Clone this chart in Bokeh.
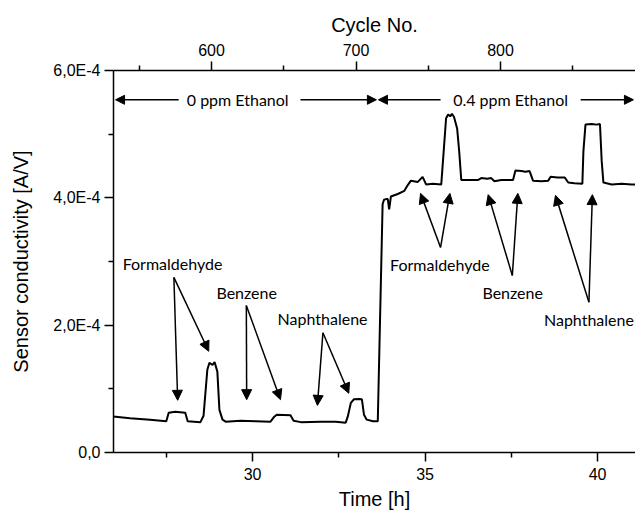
from bokeh.plotting import figure
from bokeh.models import (Range1d, LinearAxis, FixedTicker, Arrow, NormalHead,
                          Label, ColumnDataSource, CustomJSTickFormatter)
from bokeh.embed import file_html
from bokeh.resources import INLINE

# Sensor response over time (hours) in A/V
time_h = [25.96, 26.45, 27.03, 27.50, 27.57, 27.76, 28.05, 28.12, 28.49, 28.58,
          28.69, 28.75, 28.84, 28.90, 28.98, 29.04, 29.13, 29.22, 29.65, 30.09,
          30.52, 30.63, 30.70, 31.10, 31.19, 31.40, 31.98, 32.41, 32.70, 32.76,
          32.85, 32.94, 33.08, 33.17, 33.23, 33.31, 33.49, 33.63, 33.77, 33.81,
          33.87, 33.92, 33.96, 34.01, 34.21, 34.40, 34.50, 34.59, 34.79, 34.93,
          35.03, 35.23, 35.47, 35.52, 35.61, 35.67, 35.73, 35.78, 35.84, 35.93,
          35.99, 36.05, 36.34, 36.53, 36.63, 36.80, 36.92, 37.01, 37.21, 37.55,
          37.62, 37.79, 37.91, 38.03, 38.13, 38.37, 38.57, 38.64, 38.84, 39.05,
          39.15, 39.33, 39.56, 39.59, 39.65, 39.83, 39.97, 40.07, 40.12, 40.17,
          40.41, 40.70, 40.99, 41.13]
conductivity = [0.567e-4, 0.539e-4, 0.516e-4, 0.492e-4, 0.625e-4, 0.640e-4, 0.625e-4, 0.492e-4, 0.477e-4, 0.578e-4,
                1.30e-4, 1.41e-4, 1.375e-4, 1.42e-4, 1.27e-4, 0.67e-4, 0.516e-4, 0.484e-4, 0.500e-4, 0.492e-4,
                0.484e-4, 0.5625e-4, 0.594e-4, 0.586e-4, 0.500e-4, 0.477e-4, 0.484e-4, 0.484e-4, 0.469e-4, 0.5625e-4,
                0.78e-4, 0.836e-4, 0.84e-4, 0.836e-4, 0.594e-4, 0.516e-4, 0.492e-4, 0.489e-4, 3.90e-4, 3.97e-4,
                3.98e-4, 3.98e-4, 3.82e-4, 4.02e-4, 4.06e-4, 4.11e-4, 4.20e-4, 4.27e-4, 4.25e-4, 4.33e-4,
                4.21e-4, 4.22e-4, 4.21e-4, 4.58e-4, 5.25e-4, 5.31e-4, 5.28e-4, 5.32e-4, 5.27e-4, 5.09e-4,
                4.73e-4, 4.28e-4, 4.28e-4, 4.28e-4, 4.31e-4, 4.30e-4, 4.31e-4, 4.26e-4, 4.28e-4, 4.28e-4,
                4.43e-4, 4.42e-4, 4.41e-4, 4.42e-4, 4.27e-4, 4.26e-4, 4.27e-4, 4.33e-4, 4.32e-4, 4.32e-4,
                4.24e-4, 4.23e-4, 4.22e-4, 4.73e-4, 5.15e-4, 5.16e-4, 5.15e-4, 5.16e-4, 4.58e-4, 4.24e-4,
                4.21e-4, 4.22e-4, 4.21e-4, 4.21e-4]

# Analyte annotations: label text, label position, arrow apex and two arrow tips
analytes = ["Formaldehyde", "Benzene", "Naphthalene",
            "Formaldehyde", "Benzene", "Naphthalene"]
label_t = [27.68, 29.83, 32.03, 35.43, 37.54, 39.75]
label_v = [2.97e-4, 2.51e-4, 2.10e-4, 2.95e-4, 2.51e-4, 2.09e-4]
apex_t = [27.72, 29.82, 32.04, 35.45, 37.53, 39.75]
apex_v = [2.75e-4, 2.31e-4, 1.88e-4, 3.22e-4, 2.78e-4, 2.36e-4]
tip1_t = [27.83, 29.83, 31.88, 34.87, 36.83, 38.78]
tip1_v = [0.82e-4, 0.83e-4, 0.74e-4, 4.07e-4, 4.05e-4, 4.04e-4]
tip2_t = [28.73, 30.81, 32.79, 35.72, 37.69, 39.85]
tip2_v = [1.59e-4, 0.83e-4, 0.93e-4, 4.07e-4, 4.07e-4, 4.05e-4]

# Ethanol phases
phase_labels = ["0 ppm Ethanol", "0.4 ppm Ethanol"]
phase_center = [29.57, 37.48]
phase_start = [26.03, 33.65]
phase_end = [33.59, 41.04]
phase_gap_left = [27.86, 35.45]
phase_gap_right = [31.39, 39.51]
phase_level = 5.54e-4

cycle_ticks = [500, 600, 700, 800, 900]
cycle_minor = [550, 650, 750, 850]
time_ticks = [25, 30, 35, 40]
time_minor = [27.5, 32.5, 37.5]
cond_ticks = [0, 2e-4, 4e-4, 6e-4]
cond_minor = [1e-4, 3e-4, 5e-4]

AX_FONT = "Liberation Sans"
NOTE_FONT = "Lato"

p = figure(width=635, height=514, output_backend="svg", toolbar_location=None,
           x_range=Range1d(25.97, 41.10), y_range=Range1d(0, 6e-4),
           min_border_left=113, min_border_right=0, min_border_top=70,
           min_border_bottom=62, background_fill_color="white",
           border_fill_color="white", outline_line_color=None)
p.grid.grid_line_color = None

bottom = p.below[0]
left = p.left[0]

p.extra_x_ranges = {"cycle": Range1d(532.2, 893.4)}
top = LinearAxis(x_range_name="cycle", axis_label="Cycle No.")
p.add_layout(top, "above")


def style_axis(ax, ticks, minor):
    ax.ticker = FixedTicker(ticks=ticks, minor_ticks=minor)
    ax.axis_line_color = "black"
    ax.axis_line_width = 1.5
    ax.major_tick_line_color = "black"
    ax.major_tick_line_width = 1.5
    ax.minor_tick_line_color = "black"
    ax.minor_tick_line_width = 1.5
    ax.major_tick_out = 9
    ax.major_tick_in = 0
    ax.minor_tick_out = 5
    ax.minor_tick_in = 0
    ax.major_label_text_font = AX_FONT
    ax.major_label_text_font_size = "16px"
    ax.major_label_text_color = "black"
    ax.axis_label_text_font = AX_FONT
    ax.axis_label_text_font_size = "20px"
    ax.axis_label_text_font_style = "normal"
    ax.axis_label_text_color = "black"


style_axis(bottom, time_ticks, time_minor)
style_axis(top, cycle_ticks, cycle_minor)
style_axis(left, cond_ticks, cond_minor)
bottom.axis_label = "Time [h]"
left.axis_label = "Sensor conductivity [A/V]"
left.axis_label_standoff = 18
left.formatter = CustomJSTickFormatter(
    code="return tick == 0 ? '0,0' : (tick * 1e4).toFixed(1).replace('.', ',') + 'E-4';")
bottom.major_label_standoff = 6
top.major_label_standoff = 6
left.major_label_standoff = 4

p.line(time_h, conductivity, line_color="black", line_width=2)

# Analyte arrows
arrow_src = ColumnDataSource(dict(
    x0=apex_t + apex_t, y0=apex_v + apex_v,
    x1=tip1_t + tip2_t, y1=tip1_v + tip2_v))
p.add_layout(Arrow(source=arrow_src, x_start="x0", y_start="y0", x_end="x1", y_end="y1",
                   line_color="black", line_width=1.5,
                   end=NormalHead(size=10, fill_color="black", line_color="black")))

for name, tx, ty in zip(analytes, label_t, label_v):
    p.add_layout(Label(x=tx, y=ty, text=name, text_align="center", text_baseline="middle",
                       text_font=NOTE_FONT, text_font_size="16px", text_color="black"))

# Ethanol phase arrows
eth_src = ColumnDataSource(dict(
    x0=phase_gap_left + phase_gap_right,
    y0=[phase_level] * 4,
    x1=phase_start + phase_end,
    y1=[phase_level] * 4))
p.add_layout(Arrow(source=eth_src, x_start="x0", y_start="y0", x_end="x1", y_end="y1",
                   line_color="black", line_width=1.5,
                   end=NormalHead(size=9, fill_color="black", line_color="black")))
for name, cx in zip(phase_labels, phase_center):
    p.add_layout(Label(x=cx, y=phase_level, text=name, text_align="center",
                       text_baseline="middle", text_font=NOTE_FONT,
                       text_font_size="16px", text_color="black"))

open("out.html", "w").write(file_html(p, INLINE))
